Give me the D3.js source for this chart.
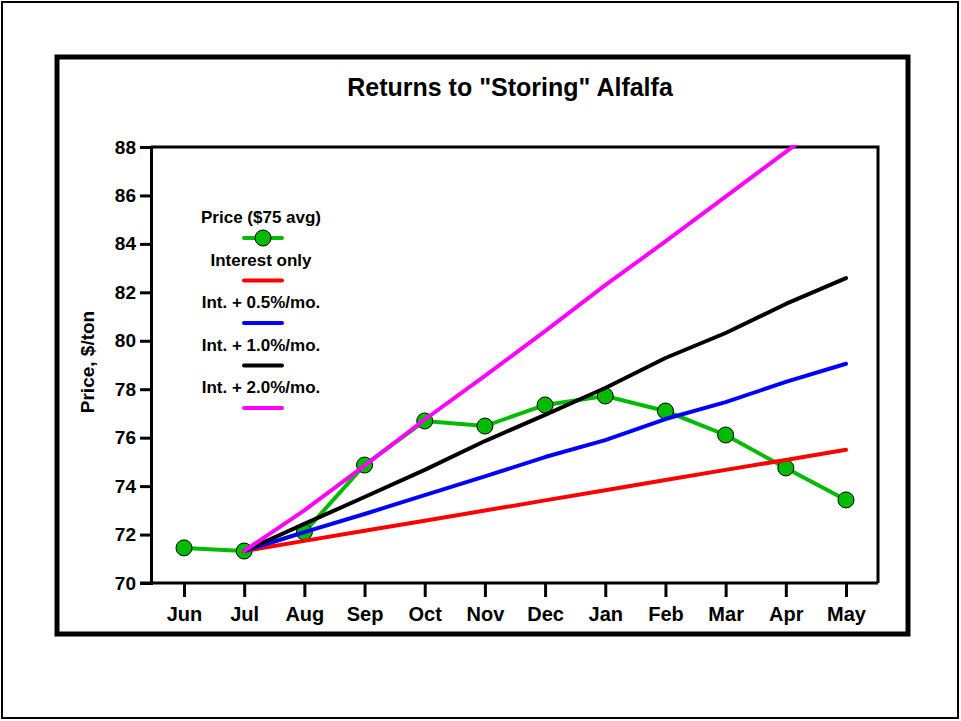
<!DOCTYPE html>
<html>
<head>
<meta charset="utf-8">
<script src="https://cdn.jsdelivr.net/npm/d3@7"></script>
<style>
  body { margin: 0; background: #fff; }
  text { font-family: "Liberation Sans", Arial, sans-serif; font-weight: bold; }
</style>
</head>
<body>
<div id="chart"></div>
<script>
const months = ["Jun", "Jul", "Aug", "Sep", "Oct", "Nov", "Dec", "Jan", "Feb", "Mar", "Apr", "May"];
const yTicks = [70, 72, 74, 76, 78, 80, 82, 84, 86, 88];

const price = [71.45, 71.32, 72.1, 74.87, 76.69, 76.48, 77.35, 77.72, 77.1, 76.11, 74.75, 73.43];
const interestOnly = [null, 71.32, 71.74, 72.16, 72.57, 72.99, 73.41, 73.83, 74.25, 74.67, 75.08, 75.5];
const int05 = [null, 71.32, 72.1, 72.85, 73.63, 74.4, 75.2, 75.9, 76.77, 77.47, 78.3, 79.05];
const int10 = [null, 71.32, 72.44, 73.55, 74.67, 75.86, 76.94, 78.05, 79.29, 80.32, 81.52, 82.59];
const int20 = [null, 71.32, 73.0, 74.85, 76.75, 78.55, 80.4, 82.3, 84.1, 85.95, 87.8, 89.6];

const series = [
  {name: "Interest only", values: interestOnly, color: "#ff0000"},
  {name: "Int. + 0.5%/mo.", values: int05, color: "#0000ff"},
  {name: "Int. + 1.0%/mo.", values: int10, color: "#000000"},
  {name: "Int. + 2.0%/mo.", values: int20, color: "#ff00ff"}
];
const green = "#00bb00";

const width = 961, height = 721;
const pLeft = 151, pRight = 878, pTop = 147, pBottom = 583;

const svg = d3.select("#chart").append("svg")
  .attr("width", width)
  .attr("height", height);

// outer border and frame
svg.append("rect")
  .attr("x", 2).attr("y", 2).attr("width", 956).attr("height", 716)
  .attr("fill", "none").attr("stroke", "black").attr("stroke-width", 2);
svg.append("rect")
  .attr("x", 57).attr("y", 57).attr("width", 851).attr("height", 577)
  .attr("fill", "none").attr("stroke", "black").attr("stroke-width", 5);

const x = d3.scalePoint().domain(months).range([184, 846]);
const y = d3.scaleLinear().domain([70, 88]).range([pBottom, pTop]);

svg.append("defs").append("clipPath").attr("id", "clip")
  .append("rect").attr("x", pLeft).attr("y", pTop - 2)
  .attr("width", pRight - pLeft).attr("height", pBottom - pTop + 2);

// plot box
svg.append("path")
  .attr("d", `M${pLeft},${pTop}H${pRight}V${pBottom}`)
  .attr("fill", "none").attr("stroke", "black").attr("stroke-width", 3);

const yAxis = svg.append("g")
  .attr("transform", `translate(${pLeft},0)`)
  .call(d3.axisLeft(y).tickValues(yTicks).tickSize(11).tickPadding(4));
yAxis.select(".domain").attr("stroke-width", 3);
yAxis.selectAll(".tick text").style("font-size", "19px");

const xAxis = svg.append("g")
  .attr("transform", `translate(0,${pBottom})`)
  .call(d3.axisBottom(x).tickSize(14).tickPadding(10));
xAxis.select(".domain").remove();
xAxis.selectAll(".tick text").style("font-size", "20px");
svg.append("line")
  .attr("x1", pLeft - 11).attr("x2", pRight)
  .attr("y1", pBottom).attr("y2", pBottom)
  .attr("stroke", "black").attr("stroke-width", 3);

svg.selectAll(".tick line").attr("stroke-width", 3);
svg.selectAll(".tick text")
  .style("font-weight", "bold")
  .style("font-family", "'Liberation Sans', Arial, sans-serif")
  .attr("fill", "black");

const line = d3.line()
  .defined(d => d !== null)
  .x((d, i) => x(months[i]))
  .y(d => y(d));

const lines = svg.append("g").attr("clip-path", "url(#clip)");

lines.append("path")
  .datum(price)
  .attr("d", line)
  .attr("fill", "none").attr("stroke", green).attr("stroke-width", 4);

lines.selectAll(".dot")
  .data(price)
  .enter().append("circle")
  .attr("cx", (d, i) => x(months[i]))
  .attr("cy", d => y(d))
  .attr("r", 8)
  .attr("fill", green).attr("stroke", "black").attr("stroke-width", 1);

lines.selectAll(".series")
  .data(series)
  .enter().append("path")
  .attr("d", d => line(d.values))
  .attr("fill", "none")
  .attr("stroke", d => d.color)
  .attr("stroke-width", 4)
  .attr("stroke-linejoin", "round")
  .attr("stroke-linecap", "round");

// title
svg.append("text")
  .text('Returns to "Storing" Alfalfa')
  .attr("x", 510).attr("y", 96)
  .style("text-anchor", "middle")
  .style("font-size", "25px");

svg.append("text")
  .text("Price, $/ton")
  .attr("transform", `translate(94,${(pTop + pBottom) / 2 - 3}) rotate(-90)`)
  .style("text-anchor", "middle")
  .style("font-size", "19px");

// legend
const legend = svg.append("g").attr("transform", "translate(263,0)");
const legendItems = [{name: "Price ($75 avg)", color: green}].concat(series);
legendItems.forEach((d, i) => {
  const ty = 223 + i * 42.5;
  legend.append("text")
    .text(d.name)
    .attr("x", -2)
    .attr("y", ty)
    .style("text-anchor", "middle")
    .style("font-size", "17px");
  legend.append("line")
    .attr("x1", -19).attr("x2", 19)
    .attr("y1", ty + 15).attr("y2", ty + 15)
    .attr("stroke", d.color).attr("stroke-width", 4)
    .attr("stroke-linecap", "round");
  if (i === 0) {
    legend.append("circle")
      .attr("cx", 0).attr("cy", ty + 15).attr("r", 8)
      .attr("fill", green).attr("stroke", "black").attr("stroke-width", 1);
  }
});
</script>
</body>
</html>
